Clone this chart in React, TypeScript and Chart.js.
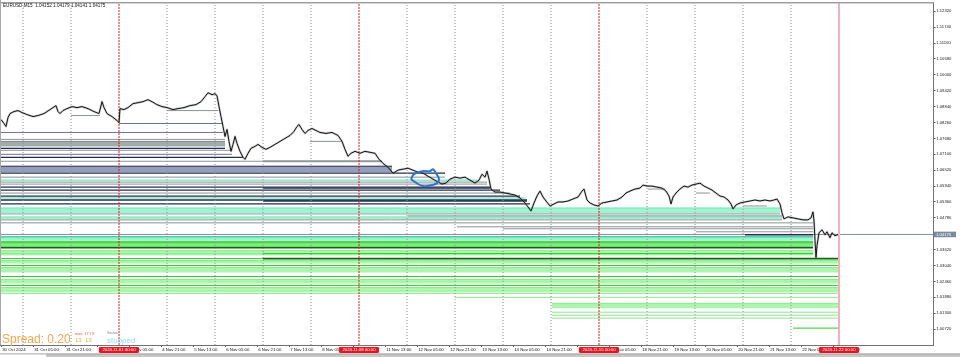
import React, { useEffect, useRef } from 'react';
import { Chart, registerables } from 'chart.js';

Chart.register(...registerables);

// ---------- DATA (hours counted in trading time from 30 Oct 2024 13:00, prices EURUSD) ----------
const priceHours = [
  0, 1.5, 2.5, 3.5, 4.5, 6.5, 8.5, 10.5, 13, 16, 18.5, 21.5, 24.5, 26, 27.5, 28.5, 29.5, 31, 33, 35.5,
  38, 40.5, 43.5, 46.5, 49, 50.5, 51.5, 53, 55.5, 58, 59, 59.5, 61.5, 63.5, 66, 68.5, 71, 73.5, 75.5, 78,
  80.5, 83, 86, 88.5, 91.5, 94.5, 97.5, 100, 102, 103.5, 105.5, 107, 108, 109, 110, 111, 112, 113, 114, 115,
  116, 117, 118, 119.5, 121, 122, 123.5, 125, 127, 128.5, 130.5, 132.5, 134.5, 137, 139.5, 142, 144.5, 146.5, 148, 149,
  150.5, 152, 153.5, 155.5, 157.5, 159.5, 162.5, 165.5, 168.5, 170.5, 172, 173.5, 175, 177, 179.5, 182, 184.5, 187, 189, 191.5,
  193.5, 196, 198.5, 201, 203.5, 206, 208.5, 211, 213.5, 216, 218.5, 220.5, 222.5, 224.5, 227, 229.5, 232, 234.5, 237, 239,
  240.5, 242, 243, 244, 245, 247, 249.5, 252, 254.5, 257, 259.5, 262, 263.5, 265, 266.5, 268, 269.5, 271, 272.5, 274.5,
  276.5, 278.5, 281, 283.5, 286, 288.5, 290.5, 291.5, 293, 294.5, 296.5, 298.5, 300.5, 303, 305.5, 308, 310.5, 312.5, 314.5, 317,
  319.5, 321, 323, 325.5, 328, 330.5, 332.5, 334, 335, 336, 337.5, 339.5, 341.5, 343.5, 345.5, 347.5, 349.5, 351.5, 353.5, 355.5,
  357.5, 359.5, 361.5, 363.5, 365, 366, 367.5, 369.5, 372, 374.5, 377, 379.5, 382, 384.5, 386.5, 388, 389.5, 390.5, 391.5, 393.5,
  396, 398.5, 401, 403.5, 405, 406, 406.5, 407, 407.5, 408, 409, 410.5, 412, 413, 414.5, 415.5, 417, 418.5,
];
const priceValues = [
  1.08369, 1.08224, 1.08115, 1.08441, 1.08586, 1.08659, 1.08695, 1.08622, 1.0855, 1.08477, 1.08514, 1.08586, 1.08731, 1.08804, 1.08876, 1.08659, 1.08586, 1.08695, 1.08767, 1.0884,
  1.08804, 1.0884, 1.08767, 1.08659, 1.08586, 1.09021, 1.08804, 1.08586, 1.08477, 1.08332, 1.0826, 1.08767, 1.08731, 1.08804, 1.08949, 1.08985, 1.09021, 1.09094, 1.09021, 1.08912,
  1.0884, 1.08804, 1.08731, 1.08767, 1.08804, 1.08876, 1.08912, 1.09021, 1.09203, 1.09348, 1.09275, 1.09311, 1.09239, 1.0884, 1.08477, 1.08115, 1.07752, 1.08006, 1.07571, 1.07208,
  1.07462, 1.07752, 1.07498, 1.07208, 1.06991, 1.06918, 1.07136, 1.07317, 1.07389, 1.07462, 1.07353, 1.07281, 1.07353, 1.07462, 1.07571, 1.0768, 1.07788, 1.07934, 1.08115, 1.08187,
  1.08006, 1.07861, 1.0797, 1.08042, 1.0797, 1.07897, 1.07861, 1.07897, 1.07788, 1.07571, 1.07281, 1.07027, 1.07136, 1.07208, 1.07136, 1.07208, 1.07172, 1.07136, 1.06918, 1.06737,
  1.06628, 1.06411, 1.0652, 1.06556, 1.06592, 1.0652, 1.06447, 1.06411, 1.06302, 1.06194, 1.06085, 1.06012, 1.06048, 1.06194, 1.06266, 1.0623, 1.06266, 1.06157, 1.06048, 1.06157,
  1.06375, 1.06266, 1.06484, 1.06194, 1.05831, 1.05722, 1.05722, 1.05686, 1.0565, 1.05613, 1.05505, 1.05323, 1.05178, 1.05033, 1.05323, 1.05577, 1.05758, 1.05541, 1.05396, 1.05214,
  1.05287, 1.0536, 1.0536, 1.05396, 1.05468, 1.05541, 1.05758, 1.05831, 1.05432, 1.05323, 1.05251, 1.05214, 1.05323, 1.0536, 1.05396, 1.05432, 1.05541, 1.05686, 1.05758, 1.05831,
  1.05867, 1.05976, 1.0594, 1.0594, 1.05903, 1.05867, 1.05758, 1.05577, 1.05287, 1.05541, 1.05686, 1.05831, 1.0594, 1.05903, 1.05976, 1.06012, 1.06048, 1.0594, 1.05867, 1.05795,
  1.05686, 1.05577, 1.05541, 1.05432, 1.05287, 1.05106, 1.05251, 1.05323, 1.0536, 1.05396, 1.05432, 1.05396, 1.05432, 1.05396, 1.05432, 1.05468, 1.05287, 1.04961, 1.04743, 1.04816,
  1.0478, 1.04743, 1.04707, 1.04707, 1.0478, 1.04997, 1.04671, 1.03946, 1.0333, 1.03765, 1.04236, 1.04345, 1.04164, 1.04272, 1.04055, 1.04236, 1.04127, 1.04175,
];
const lastPrice = 1.04175;
const headerText = 'EURUSD,M15  1.04152 1.04179 1.04141 1.04175';

// horizontal levels: [fromHour, toHour, price]
const grayLines = [
  [0, 112, 1.07644], [0, 114.5, 1.07245], [0, 190.5, 1.06846], [0, 222, 1.06266], [0, 243, 1.06085],
  [0, 243, 1.06012], [0, 254.5, 1.05686], [0, 389.5, 1.04924], [0, 390.5, 1.04707], [0, 406, 1.04598],
  [228, 406, 1.04453], [251, 406, 1.04381], [347.5, 406, 1.04272], [203.5, 390.5, 1.04852],
  [154.5, 170.5, 1.07571], [35, 49.5, 1.08514], [83, 108.5, 1.08695], [323.5, 332, 1.05831],
  [347.5, 354.5, 1.05686], [371, 383, 1.05214],
];
const grayThickLines = [[131, 190.5, 1.06846]];
const slateLines = [[0, 111, 1.07897], [59, 110.5, 1.08224], [0, 115.5, 1.071]];
const navyLines = [
  [0, 112, 1.07317], [0, 121, 1.06991], [0, 222, 1.06411], [0, 244.5, 1.05903], [0, 249.5, 1.05795],
  [131, 244.5, 1.05867], [0, 259.5, 1.05577], [0, 263, 1.05432], [0, 264.5, 1.05287], [131, 263, 1.05396],
  [372, 406, 1.04164],
];
const mintLines = [[0, 238, 1.06157], [0, 262, 1.05505]];
const tealLines = [[0, 406, 1.04091]];
const greenLines = [
  [0, 406, 1.03909], [0, 418.5, 1.03294], [0, 418.5, 1.0304], [0, 418.5, 1.02641], [0, 418.5, 1.02315],
  [131, 406, 1.03475], [396, 418.5, 1.00757],
];
const darkGreenLines = [[0, 406, 1.03692], [131, 418.5, 1.03294]];
const lightGreenLines = [
  [0, 406, 1.03475], [0, 418.5, 1.02025], [227, 418.5, 1.0188], [275.5, 418.5, 1.01337],
  [275.5, 418.5, 1.01228], [275.5, 418.5, 1.0112],
];

// bands: [fromHour, toHour, highPrice, lowPrice]
const grayBands = [[0, 112, 1.07571, 1.07389]];
const slateBands = [[0, 195.5, 1.06665, 1.06447]];
const mintBands = [[0, 389.5, 1.05142, 1.04961], [0, 390.5, 1.04816, 1.04743], [0, 406, 1.04055, 1.03946]];
const greenBands = [[0, 406, 1.03873, 1.03728]];
const lightGreenBands = [
  [0, 406, 1.03584, 1.03402], [0, 418.5, 1.03221, 1.03113], [0, 418.5, 1.02967, 1.02786],
  [0, 418.5, 1.02532, 1.02388], [0, 418.5, 1.02243, 1.02061], [275.5, 418.5, 1.01663, 1.01482],
];

// hand-drawn ellipse annotation
const ellipseHours = [205, 207, 211, 215.5, 218, 219, 217.5, 216, 214.5, 210.5, 206.5, 205];
const ellipsePrices = [1.06194, 1.06085, 1.0594, 1.05976, 1.06048, 1.06194, 1.06411, 1.06556, 1.06484, 1.06484, 1.06375, 1.06194];

// separators
const dayHours = [11, 35, 83, 107, 131, 155, 203, 227, 251, 275, 323, 347, 371, 395];
const weekHours = [59, 179, 299];
const currentHour = 419;
const weekLabelHours = [59, 179, 299, 419];
const weekLabels = ['2024.11.01 00:00', '2024.11.08 00:00', '2024.11.15 00:00', '2024.11.22 00:00'];

// axes
const xMin = 0;
const xMax = 466;
const yMin = 1.0014;
const yMax = 1.1261;
const xTickHours = [0, 16, 32, 48, 64, 80, 96, 112, 128, 144, 160, 176, 192, 208, 224, 240, 256, 272, 288, 304, 320, 336, 352, 368, 384, 400, 416];
const xTickLabels = [
  '30 Oct 2024', '31 Oct 05:00', '31 Oct 21:00', '1 Nov 13:00', '4 Nov 05:00', '4 Nov 21:00', '5 Nov 13:00',
  '6 Nov 05:00', '6 Nov 21:00', '7 Nov 13:00', '8 Nov 05:00', '8 Nov 21:00', '11 Nov 13:00', '12 Nov 05:00',
  '12 Nov 21:00', '13 Nov 13:00', '14 Nov 05:00', '14 Nov 21:00', '15 Nov 13:00', '18 Nov 05:00', '18 Nov 21:00',
  '19 Nov 13:00', '20 Nov 05:00', '20 Nov 21:00', '21 Nov 13:00', '22 Nov 05:00', '22 Nov 21:00',
];
const yTickValues = [
  1.1232, 1.1174, 1.1116, 1.1058, 1.1, 1.0942, 1.0884, 1.0826, 1.0768, 1.071, 1.0652, 1.0594, 1.0536,
  1.0478, 1.0362, 1.0304, 1.0246, 1.0188, 1.013, 1.0072,
];

// ---------- STYLES ----------
const LINE_STYLES: Record<string, { color: string; width: number }> = {
  gray: { color: '#8b9397', width: 1 },
  grayThick: { color: '#9aa2a4', width: 2 },
  slate: { color: '#6d6fa3', width: 1 },
  navy: { color: '#1f2e4e', width: 1.3 },
  mint: { color: '#4fe3ac', width: 1 },
  teal: { color: '#1fbf95', width: 1 },
  green: { color: '#22cf22', width: 1 },
  darkGreen: { color: '#0a6a0a', width: 1.6 },
  lightGreen: { color: '#8fe58f', width: 1 },
};
const BAND_STYLES: Record<string, { fill: string; edge: string }> = {
  gray: { fill: '#a3abab', edge: '#7e8788' },
  slate: { fill: '#959dbb', edge: '#1f2e4e' },
  mint: { fill: '#9ef5cf', edge: '#6ee9b8' },
  green: { fill: '#7cee7c', edge: '#2bd22b' },
  lightGreen: { fill: '#adf5ad', edge: '#8ee88e' },
};
const FONT = "'Liberation Sans', Arial, sans-serif";

function buildDatasets() {
  const ds: any[] = [];
  const bandGroups: [number[][], string][] = [
    [grayBands, 'gray'], [slateBands, 'slate'], [mintBands, 'mint'], [greenBands, 'green'], [lightGreenBands, 'lightGreen'],
  ];
  bandGroups.forEach(([arr, kind]) => {
    const st = BAND_STYLES[kind];
    arr.forEach(([from, to, hi, lo]) => {
      ds.push({
        data: [{ x: from, y: hi }, { x: to, y: hi }],
        borderColor: st.edge,
        borderWidth: 1,
        backgroundColor: st.fill,
        fill: { value: lo },
        order: 90,
      });
    });
  });
  const lineGroups: [number[][], string][] = [
    [grayLines, 'gray'], [grayThickLines, 'grayThick'], [slateLines, 'slate'], [navyLines, 'navy'],
    [mintLines, 'mint'], [tealLines, 'teal'], [greenLines, 'green'], [darkGreenLines, 'darkGreen'],
    [lightGreenLines, 'lightGreen'],
  ];
  lineGroups.forEach(([arr, kind]) => {
    const st = LINE_STYLES[kind];
    arr.forEach(([from, to, p]) => {
      ds.push({
        data: [{ x: from, y: p }, { x: to, y: p }],
        borderColor: st.color,
        borderWidth: st.width,
        fill: false,
        order: kind === 'darkGreen' || kind === 'navy' ? 70 : 80,
      });
    });
  });
  // bid line
  ds.push({
    data: [{ x: xMin, y: lastPrice }, { x: xMax, y: lastPrice }],
    borderColor: '#7f8ea0',
    borderWidth: 1,
    fill: false,
    order: 85,
  });
  dayHours.forEach((h) => {
    ds.push({
      data: [{ x: h, y: yMin }, { x: h, y: yMax }],
      borderColor: '#909090',
      borderWidth: 1,
      borderDash: [1, 2],
      fill: false,
      order: 50,
    });
  });
  weekHours.forEach((h) => {
    ds.push({
      data: [{ x: h, y: yMin }, { x: h, y: yMax }],
      borderColor: '#e01a1a',
      borderWidth: 1,
      borderDash: [2, 1],
      fill: false,
      order: 49,
    });
  });
  ds.push({
    data: [{ x: currentHour, y: yMin }, { x: currentHour, y: yMax }],
    borderColor: '#f5b0c0',
    borderWidth: 2,
    fill: false,
    order: 48,
  });
  const pts = priceHours.map((h, i) => ({ x: h, y: priceValues[i] }));
  ds.push({ data: pts, borderColor: 'rgba(120,120,120,0.4)', borderWidth: 2.2, fill: false, order: 7 });
  ds.push({ data: pts, borderColor: '#161616', borderWidth: 1, fill: false, order: 6 });
  ds.push({
    data: ellipseHours.map((h, i) => ({ x: h, y: ellipsePrices[i] })),
    borderColor: '#2f74d4',
    borderWidth: 2,
    tension: 0.4,
    fill: false,
    order: 4,
  });
  return ds;
}

const overlayPlugin = {
  id: 'overlay',
  afterDraw(chart: any) {
    const { ctx, chartArea: ca, scales } = chart;
    const xs = scales.x;
    const ys = scales.y;
    ctx.save();
    // frame
    ctx.strokeStyle = '#707070';
    ctx.lineWidth = 1;
    ctx.strokeRect(ca.left - 0.5, ca.top - 0.5, ca.right - ca.left + 1, ca.bottom - ca.top + 1);
    ctx.fillStyle = '#a8a8a8';
    ctx.fillRect(0, 0, 1, ca.bottom);
    // window bottom strip
    ctx.fillStyle = '#c8c8c8';
    ctx.fillRect(46, 354, 914, 3);
    ctx.fillStyle = '#909090';
    ctx.fillRect(0, 353.5, 960, 0.8);

    // header
    ctx.fillStyle = '#111';
    ctx.font = `4.6px ${FONT}`;
    ctx.textBaseline = 'top';
    ctx.textAlign = 'left';
    ctx.fillText(headerText, 3, 3.5);

    // spread block
    ctx.textBaseline = 'alphabetic';
    ctx.font = `12px ${FONT}`;
    ctx.fillStyle = '#f3a64a';
    ctx.fillText('Spread: 0.20', 2, 343);
    ctx.font = `3.8px ${FONT}`;
    ctx.fillStyle = '#f05a3a';
    ctx.fillText('max: 17.73', 75, 334.5);
    ctx.font = `6px ${FONT}`;
    ctx.fillStyle = '#f3a64a';
    ctx.fillText('13  13', 75, 341.5);
    ctx.font = `3.8px ${FONT}`;
    ctx.fillStyle = '#888';
    ctx.fillText('Status', 107, 334);
    ctx.font = `8px ${FONT}`;
    ctx.fillStyle = '#8fdcf0';
    ctx.fillText('stopped', 107, 343);

    // red time boxes
    ctx.font = `4.3px ${FONT}`;
    ctx.textAlign = 'center';
    ctx.textBaseline = 'middle';
    weekLabelHours.forEach((h, i) => {
      const px = xs.getPixelForValue(h);
      ctx.fillStyle = '#e8141e';
      ctx.beginPath();
      if (ctx.roundRect) ctx.roundRect(px - 20, 347, 40, 6, 1.2);
      else ctx.rect(px - 20, 347, 40, 6);
      ctx.fill();
      ctx.fillStyle = '#ffffff';
      ctx.fillText(weekLabels[i], px, 350.1);
    });

    // current price box on axis
    const py = ys.getPixelForValue(lastPrice);
    ctx.fillStyle = '#7b8a9c';
    ctx.fillRect(ca.right + 1, py - 2.8, 22, 5.6);
    ctx.fillStyle = '#ffffff';
    ctx.font = `4.2px ${FONT}`;
    ctx.textAlign = 'left';
    ctx.fillText(lastPrice.toFixed(5), ca.right + 3, py + 0.2);
    ctx.restore();
  },
};

export default function App() {
  const ref = useRef<HTMLCanvasElement | null>(null);
  useEffect(() => {
    document.body.style.margin = '0';
    document.body.style.background = '#ffffff';
    const canvas = ref.current;
    if (!canvas) return;
    const chart = new Chart(canvas, {
      type: 'line',
      data: { datasets: buildDatasets() },
      options: {
        animation: false,
        responsive: false,
        maintainAspectRatio: false,
        events: [],
        layout: { padding: { left: 1, top: 1, right: 0, bottom: 3 } },
        plugins: { legend: { display: false }, tooltip: { enabled: false } },
        elements: { point: { radius: 0 }, line: { tension: 0, borderJoinStyle: 'round' } },
        scales: {
          x: {
            type: 'linear',
            position: 'bottom',
            min: xMin,
            max: xMax,
            afterBuildTicks: (s: any) => {
              s.ticks = xTickHours.map((v) => ({ value: v }));
            },
            afterFit: (s: any) => {
              s.height = 9;
            },
            ticks: {
              autoSkip: false,
              maxRotation: 0,
              minRotation: 0,
              align: 'start',
              padding: 0.5,
              color: '#111',
              font: { size: 4.3, family: FONT },
              callback: (_v: any, i: number) => ' ' + xTickLabels[i],
            },
            grid: { drawOnChartArea: false, drawTicks: true, tickLength: 2, color: '#555' },
            border: { display: false },
          },
          y: {
            type: 'linear',
            position: 'right',
            min: yMin,
            max: yMax,
            afterBuildTicks: (s: any) => {
              s.ticks = yTickValues.map((v) => ({ value: v }));
            },
            afterFit: (s: any) => {
              s.width = 27;
            },
            ticks: {
              autoSkip: false,
              padding: 0.8,
              color: '#222',
              font: { size: 4.2, family: FONT },
              callback: (v: any) => Number(v).toFixed(5),
            },
            grid: { drawOnChartArea: false, drawTicks: true, tickLength: 2.5, color: '#555' },
            border: { display: false },
          },
        },
      } as any,
      plugins: [overlayPlugin],
    });
    return () => chart.destroy();
  }, []);
  return (
    <div style={{ width: 960, height: 357, position: 'relative', background: '#fff' }}>
      <canvas ref={ref} width={960} height={357} style={{ display: 'block', width: 960, height: 357 }} />
    </div>
  );
}
